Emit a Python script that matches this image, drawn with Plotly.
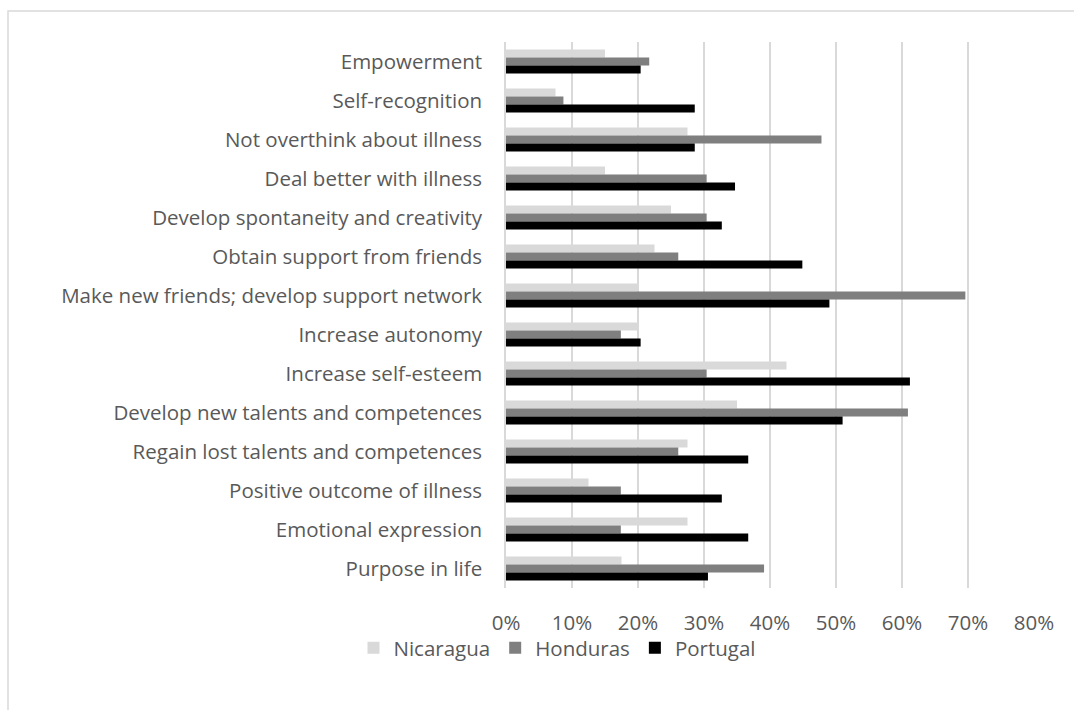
import plotly.graph_objects as go

categories = [
    "Empowerment",
    "Self-recognition",
    "Not overthink about illness",
    "Deal better with illness",
    "Develop spontaneity and creativity",
    "Obtain support from friends",
    "Make new friends; develop support network",
    "Increase autonomy",
    "Increase self-esteem",
    "Develop new talents and competences",
    "Regain lost talents and competences",
    "Positive outcome of illness",
    "Emotional expression",
    "Purpose in life",
]

nicaragua = [0.150, 0.075, 0.275, 0.150, 0.250, 0.225, 0.200, 0.200, 0.425, 0.350, 0.275, 0.125, 0.275, 0.175]
honduras = [0.217, 0.087, 0.478, 0.304, 0.304, 0.261, 0.696, 0.174, 0.304, 0.609, 0.261, 0.174, 0.174, 0.391]
portugal = [0.204, 0.286, 0.286, 0.347, 0.327, 0.449, 0.490, 0.204, 0.612, 0.510, 0.367, 0.327, 0.367, 0.306]

x_ticks = [0, 0.1, 0.2, 0.3, 0.4, 0.5, 0.6, 0.7, 0.8]

series = [
    ("Nicaragua", nicaragua, "#d9d9d9"),
    ("Honduras", honduras, "#7f7f7f"),
    ("Portugal", portugal, "#000000"),
]

FONT = "Open Sans"
FS = 20.5
TEXT = "#595959"
GRID = "#d9d9d9"

fig = go.Figure()
for name, vals, color in series:
    fig.add_trace(go.Bar(
        name=name,
        y=categories,
        x=vals,
        orientation="h",
        marker=dict(color=color, line=dict(width=0)),
    ))

W, H = 1074, 710
L, R, T, B = 506, 40, 42, 122
pw, ph = W - L - R, H - T - B


def px_x(p):
    return (p - L) / pw


def px_y(p):
    return (H - B - p) / ph


fig.update_layout(
    width=W,
    height=H,
    margin=dict(l=L, r=R, t=T, b=B),
    paper_bgcolor="white",
    plot_bgcolor="white",
    barmode="group",
    bargap=0.385,
    bargroupgap=0,
    font=dict(family=FONT, size=FS, color=TEXT),
    xaxis=dict(
        range=[0, 0.8],
        tickvals=x_ticks,
        tickformat=".0%",
        showgrid=True,
        gridcolor=GRID,
        gridwidth=1.5,
        zeroline=False,
        showline=False,
        ticks="",
        ticklabelstandoff=20,
        tickfont=dict(family=FONT, size=FS, color=TEXT),
    ),
    yaxis=dict(
        autorange="reversed",
        showgrid=False,
        zeroline=False,
        showline=True,
        linecolor=GRID,
        linewidth=1.5,
        ticks="",
        ticklabelstandoff=18,
        tickfont=dict(family=FONT, size=FS, color=TEXT),
    ),
    legend=dict(
        orientation="h",
        x=px_x(557),
        xanchor="center",
        y=px_y(648),
        yanchor="middle",
        itemwidth=30,
        font=dict(family=FONT, size=FS, color=TEXT),
        bgcolor="rgba(0,0,0,0)",
    ),
    shapes=[
        dict(
            type="rect",
            xref="paper",
            yref="paper",
            x0=px_x(8),
            x1=px_x(1090),
            y0=px_y(730),
            y1=px_y(11),
            line=dict(color=GRID, width=1.5),
            fillcolor="rgba(0,0,0,0)",
            layer="below",
        )
    ],
)

fig.write_html("out.html")
